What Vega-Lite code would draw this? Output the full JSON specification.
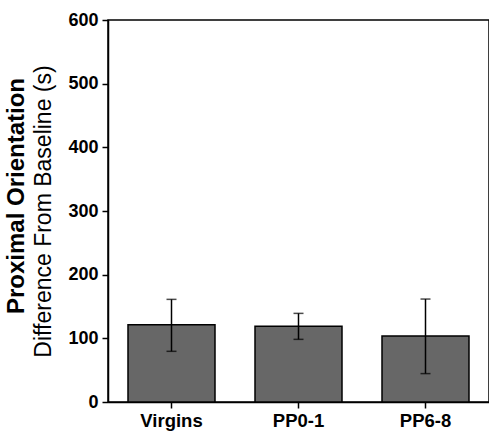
{
  "$schema": "https://vega.github.io/schema/vega-lite/v6.json",
  "width": 381,
  "height": 382,
  "autosize": "none",
  "padding": {"left": 108, "top": 20, "right": 0, "bottom": 29},
  "background": "white",
  "config": {
    "font": "Liberation Sans",
    "view": {"stroke": "black", "strokeWidth": 1.5}
  },
  "title": {
    "text": "Proximal Orientation",
    "orient": "left",
    "anchor": "middle",
    "fontSize": 24,
    "fontWeight": "bold",
    "font": "Liberation Sans",
    "color": "black",
    "offset": 4,
    "dx": 15
  },
  "data": {
    "values": [
      {"group": "Virgins", "mean": 121.5, "lower": 79.6, "upper": 161.2},
      {"group": "PP0-1", "mean": 118.8, "lower": 98.4, "upper": 139.2},
      {"group": "PP6-8", "mean": 103.6, "lower": 44.6, "upper": 161.7}
    ]
  },
  "layer": [
    {
      "mark": {"type": "bar", "fill": "#676767", "stroke": "black", "strokeWidth": 1.5},
      "encoding": {
        "x": {
          "field": "group", "type": "nominal", "sort": null,
          "scale": {"paddingInner": 0.315, "paddingOuter": 0.1575},
          "axis": {
            "title": null, "labelAngle": 0, "labelFontSize": 18.5, "labelFontWeight": "bold",
            "labelColor": "black", "tickColor": "black", "tickSize": 6, "tickWidth": 1.5,
            "domainColor": "black", "domainWidth": 1.5, "labelPadding": 3, "grid": false
          }
        },
        "y": {
          "field": "mean", "type": "quantitative",
          "scale": {"domain": [0, 600], "nice": false},
          "axis": {
            "title": "Difference From Baseline (s)", "titleFontSize": 23, "titleFontWeight": "normal",
            "titleColor": "black", "titlePadding": 12,
            "values": [0, 100, 200, 300, 400, 500, 600],
            "labelFontSize": 18, "labelFontWeight": "bold", "labelColor": "black",
            "tickColor": "black", "tickSize": 6, "tickWidth": 1.5,
            "domainColor": "black", "domainWidth": 1.5, "grid": false, "labelPadding": 4
          }
        }
      }
    },
    {
      "mark": {"type": "rule", "stroke": "black", "strokeWidth": 1.5},
      "encoding": {
        "x": {"field": "group", "type": "nominal", "sort": null},
        "y": {"field": "lower", "type": "quantitative"},
        "y2": {"field": "upper"}
      }
    },
    {
      "mark": {"type": "tick", "color": "black", "size": 10, "thickness": 1.5},
      "encoding": {
        "x": {"field": "group", "type": "nominal", "sort": null},
        "y": {"field": "upper", "type": "quantitative"}
      }
    },
    {
      "mark": {"type": "tick", "color": "black", "size": 10, "thickness": 1.5},
      "encoding": {
        "x": {"field": "group", "type": "nominal", "sort": null},
        "y": {"field": "lower", "type": "quantitative"}
      }
    }
  ]
}
